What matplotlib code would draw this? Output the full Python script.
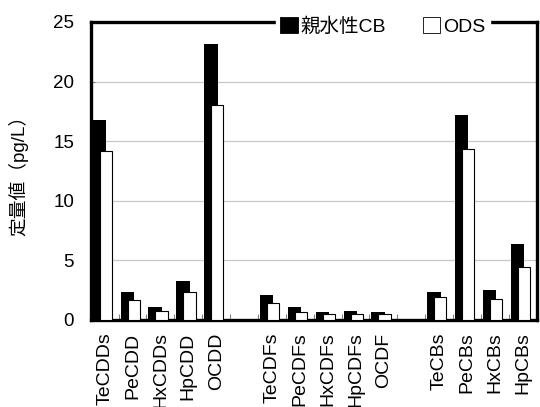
import numpy as np
import matplotlib
matplotlib.use('Agg')
import matplotlib.pyplot as plt
from matplotlib.patches import Patch

plt.rcParams['font.family'] = ['Liberation Sans', 'Noto Sans CJK JP', 'DejaVu Sans']

# categories ('' = empty spacer slot between groups)
categories = ['TeCDDs', 'PeCDD', 'HxCDDs', 'HpCDD', 'OCDD', '',
              'TeCDFs', 'PeCDFs', 'HxCDFs', 'HpCDFs', 'OCDF', '',
              'TeCBs', 'PeCBs', 'HxCBs', 'HpCBs']
cb_values = [16.8, 2.37, 1.06, 3.27, 23.15, np.nan,
             2.1, 1.06, 0.67, 0.75, 0.67, np.nan,
             2.3, 17.2, 2.5, 6.4]
ods_values = [14.2, 1.65, 0.73, 2.37, 18.0, np.nan,
              1.4, 0.7, 0.5, 0.5, 0.5, np.nan,
              1.9, 14.35, 1.76, 4.47]
series_names = ['親水性CB', 'ODS']

x = np.arange(len(categories))

fig = plt.figure(figsize=(5.4, 4.07), dpi=100)
ax = fig.add_axes([0.168, 0.214, 0.826, 0.732])

ax.bar(x - 0.19, cb_values, width=0.48, color='black', zorder=2)
ax.bar(x + 0.04, ods_values, width=0.44, color='white', edgecolor='black',
       linewidth=0.8, zorder=3)

ax.set_xlim(-0.5, len(categories) - 0.5)
ax.set_ylim(0, 25)
ax.set_yticks(np.arange(0, 26, 5))
ax.yaxis.grid(True, color='#c8c8c8', linewidth=0.9, zorder=0)
ax.set_axisbelow(True)

ax.set_xticks(x)
ax.set_xticklabels(categories, rotation=90, fontsize=14)
ax.set_xticks(np.arange(-0.5, len(categories), 1), minor=True)
ax.tick_params(axis='x', which='major', length=0, pad=9)
ax.tick_params(axis='x', which='minor', direction='in', length=4,
               color='#808080', width=0.8)
ax.tick_params(axis='y', direction='in', length=3, color='#808080',
               width=0.8, labelsize=13.5, pad=12)

for s in ax.spines.values():
    s.set_linewidth(2.4)
    s.set_color('black')

ax.set_ylabel('定量値（pg/L）', fontsize=13.5)
ax.yaxis.set_label_coords(-0.14, 0.5)

handles = [Patch(facecolor='black', edgecolor='black', linewidth=0.6),
           Patch(facecolor='white', edgecolor='black', linewidth=0.6)]
leg = ax.legend(handles, series_names, ncol=2, loc='center',
                bbox_to_anchor=(0.655, 0.985), fontsize=14,
                frameon=True, fancybox=False, framealpha=1,
                edgecolor='white', handlelength=0.9, handleheight=0.9,
                handletextpad=0.15, columnspacing=1.9, borderpad=0.2,
                borderaxespad=0)
leg.set_zorder(10)

fig.savefig('out.png', dpi=100)
